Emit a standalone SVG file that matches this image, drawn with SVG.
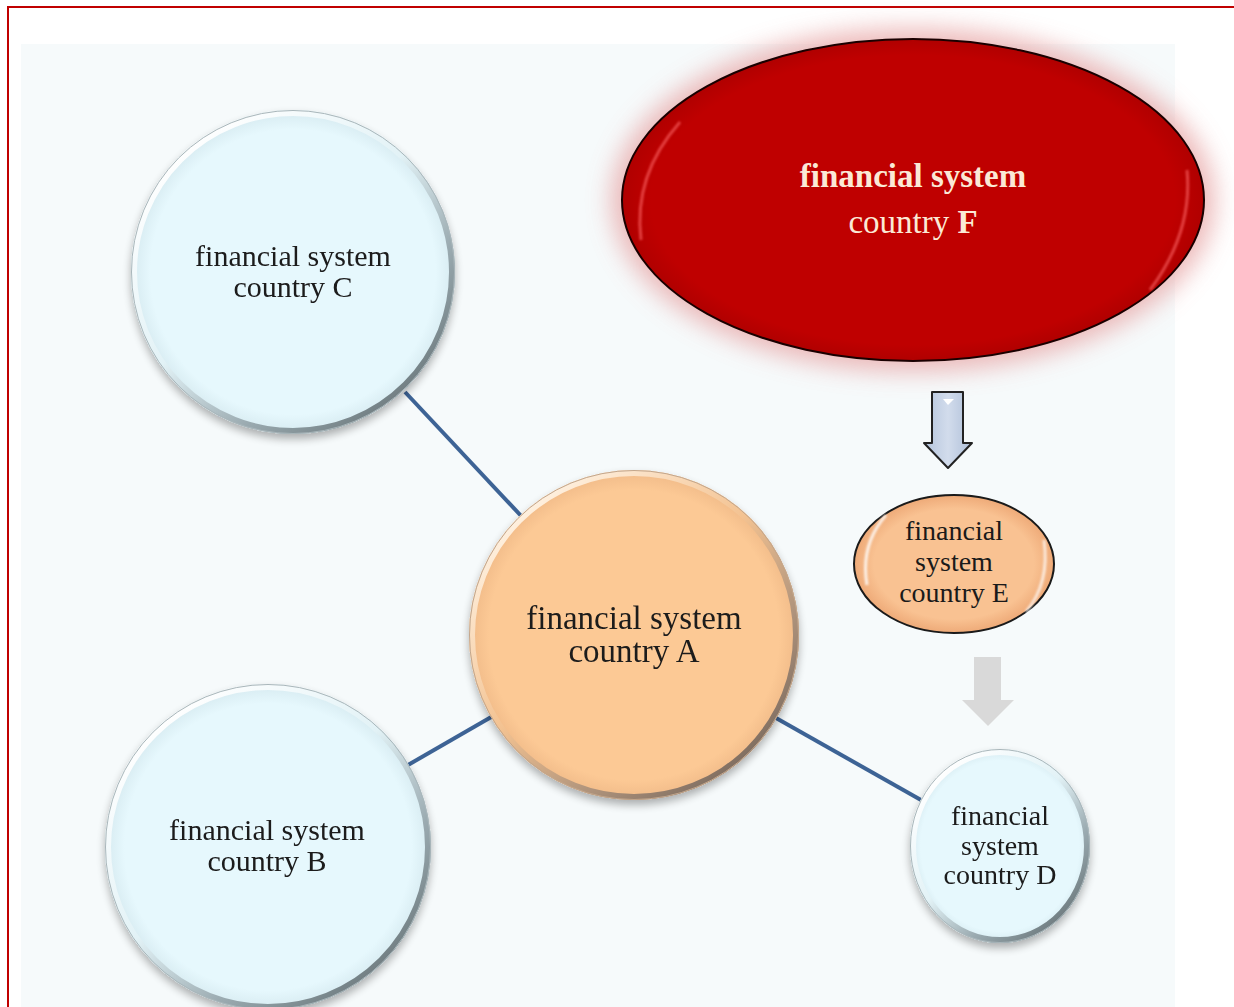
<svg xmlns="http://www.w3.org/2000/svg" width="1234" height="1007" viewBox="0 0 1234 1007">
<defs>
<style>
.t{font-family:"Liberation Serif","Times New Roman",serif;fill:#1a1a1a;text-anchor:middle}
.tf{font-family:"Liberation Serif","Times New Roman",serif;fill:#fbe9d6;text-anchor:middle;font-size:33px}
.conn{stroke:#3d6395;stroke-width:4;fill:none}
.ringB{fill:none;stroke:url(#edgeB);stroke-width:6}
.ringA{fill:none;stroke:url(#edgeA);stroke-width:6}
.outB{fill:none;stroke:#a9b6ba;stroke-width:1}
.outA{fill:none;stroke:#c2a68c;stroke-width:1}
.hl{fill:none;stroke:#ffffff;stroke-width:3;filter:url(#soft)}
</style>
<radialGradient id="gBlue" cx="50%" cy="50%" r="50%">
<stop offset="0.88" stop-color="#e6f8fd"/>
<stop offset="1" stop-color="#d6eaf0"/>
</radialGradient>
<radialGradient id="gOrange" cx="50%" cy="50%" r="50%">
<stop offset="0.88" stop-color="#fcc995"/>
<stop offset="1" stop-color="#f0ba88"/>
</radialGradient>
<linearGradient id="edgeB" x1="0.15" y1="0.1" x2="0.85" y2="0.9">
<stop offset="0" stop-color="#ffffff"/>
<stop offset="0.45" stop-color="#e2f2f6"/>
<stop offset="0.75" stop-color="#9aaab0"/>
<stop offset="1" stop-color="#6f7c80"/>
</linearGradient>
<linearGradient id="edgeA" x1="0.15" y1="0.1" x2="0.85" y2="0.9">
<stop offset="0" stop-color="#fff2e2"/>
<stop offset="0.45" stop-color="#f3c291"/>
<stop offset="0.75" stop-color="#b0947c"/>
<stop offset="1" stop-color="#7d6c60"/>
</linearGradient>
<radialGradient id="gE" cx="50%" cy="50%" r="50%">
<stop offset="0.8" stop-color="#f9c292"/>
<stop offset="1" stop-color="#eeaa78"/>
</radialGradient>
<radialGradient id="gF" cx="50%" cy="50%" r="50%">
<stop offset="0.9" stop-color="#bf0000"/>
<stop offset="1" stop-color="#b00000"/>
</radialGradient>
<linearGradient id="gArrow" x1="0" y1="0" x2="1" y2="0">
<stop offset="0" stop-color="#b4c4dc"/>
<stop offset="0.5" stop-color="#d2dcec"/>
<stop offset="1" stop-color="#aebfd8"/>
</linearGradient>
<filter id="shadow" x="-20%" y="-20%" width="140%" height="140%">
<feGaussianBlur in="SourceAlpha" stdDeviation="4"/>
<feOffset dx="0" dy="5" result="b"/>
<feComponentTransfer><feFuncA type="linear" slope="0.3"/></feComponentTransfer>
<feMerge><feMergeNode/><feMergeNode in="SourceGraphic"/></feMerge>
</filter>
<filter id="glow" x="-20%" y="-30%" width="140%" height="160%">
<feGaussianBlur stdDeviation="12"/>
</filter>
<filter id="soft" x="-20%" y="-20%" width="140%" height="140%">
<feGaussianBlur stdDeviation="1.2"/>
</filter>
</defs>
<rect x="0" y="0" width="1234" height="1007" fill="#ffffff"/>
<path d="M8 1007 V7 H1234" fill="none" stroke="#c00000" stroke-width="2"/>
<rect x="21" y="44" width="1154" height="963" fill="#f6fafb"/>

<g id="connectors">
<line class="conn" x1="405" y1="392" x2="524" y2="519"/>
<line class="conn" x1="493" y1="716" x2="408" y2="765"/>
<line class="conn" x1="776" y1="718" x2="921" y2="800"/>
</g>

<g id="nodeF">
<ellipse cx="913" cy="200" rx="302" ry="172" fill="#e8a8a8" opacity="0.8" filter="url(#glow)"/>
<ellipse cx="913" cy="200" rx="291" ry="161" fill="url(#gF)" stroke="#1a0000" stroke-width="2"/>
<path d="M641 240 Q633 175 680 122" fill="none" stroke="#ff6a6a" stroke-width="3" opacity="0.6" filter="url(#soft)"/>
<path d="M1187 170 Q1193 232 1150 290" fill="none" stroke="#ff6a6a" stroke-width="3" opacity="0.6" filter="url(#soft)"/>
<text class="tf" x="913" y="187" font-weight="bold">financial system</text>
<text class="tf" x="913" y="233">country <tspan font-weight="bold">F</tspan></text>
</g>

<g id="arrowFE">
<path d="M932 392 H963 V443 H972 L948 468 L924 443 H932 Z" fill="url(#gArrow)" stroke="#222" stroke-width="2" stroke-linejoin="round"/>
<path d="M943 399 H954 L948 405 Z" fill="#ffffff"/>
</g>

<g id="arrowED">
<path d="M974 657 H1001 V700 H1014 L988 726 L962 700 H974 Z" fill="#d9d9d9"/>
</g>

<g id="nodeC" filter="url(#shadow)">
<circle cx="293" cy="272" r="162" fill="url(#gBlue)"/>
<circle class="ringB" cx="293" cy="272" r="159"/>
<circle class="outB" cx="293" cy="272" r="161.5"/>
<text class="t" x="293" y="266" font-size="30">financial system</text>
<text class="t" x="293" y="297" font-size="30">country C</text>
</g>

<g id="nodeB" filter="url(#shadow)">
<circle cx="268" cy="847" r="163" fill="url(#gBlue)"/>
<circle class="ringB" cx="268" cy="847" r="160"/>
<circle class="outB" cx="268" cy="847" r="162.5"/>
<text class="t" x="267" y="840" font-size="30">financial system</text>
<text class="t" x="267" y="871" font-size="30">country B</text>
</g>

<g id="nodeA" filter="url(#shadow)">
<circle cx="634" cy="635" r="165" fill="url(#gOrange)"/>
<circle class="ringA" cx="634" cy="635" r="162"/>
<circle class="outA" cx="634" cy="635" r="164.5"/>
<text class="t" x="634" y="629" font-size="33">financial system</text>
<text class="t" x="634" y="662" font-size="33">country A</text>
</g>

<g id="nodeD" filter="url(#shadow)">
<ellipse cx="1000" cy="846" rx="90" ry="97" fill="url(#gBlue)"/>
<ellipse class="ringB" cx="1000" cy="846" rx="87" ry="94"/>
<ellipse class="outB" cx="1000" cy="846" rx="89.5" ry="96.5"/>
<text class="t" x="1000" y="825" font-size="28">financial</text>
<text class="t" x="1000" y="855" font-size="28">system</text>
<text class="t" x="1000" y="884" font-size="28">country D</text>
</g>

<g id="nodeE">
<ellipse cx="954" cy="564" rx="100" ry="69" fill="url(#gE)" stroke="#1a1a1a" stroke-width="2"/>
<path class="hl" d="M867 585 Q860 545 886 515" opacity="0.8"/>
<path class="hl" d="M1044 540 Q1050 583 1026 612" opacity="0.7"/>
<text class="t" x="954" y="540" font-size="28">financial</text>
<text class="t" x="954" y="571" font-size="28">system</text>
<text class="t" x="954" y="602" font-size="28">country E</text>
</g>
</svg>
